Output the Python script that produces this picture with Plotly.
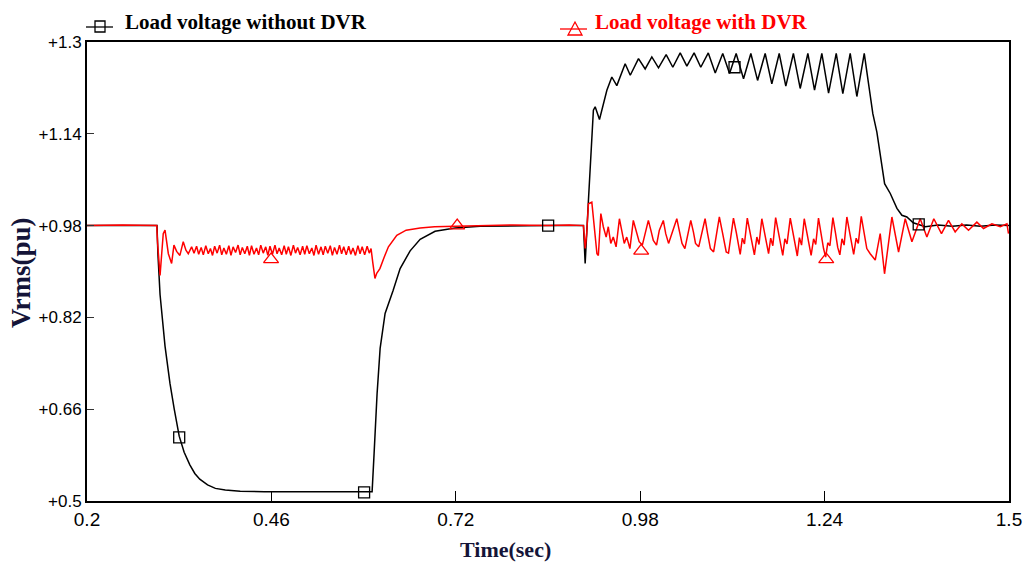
import plotly.graph_objects as go

# ---------------- data ----------------
# Load voltage without DVR (black trace)
t_without = [
    0.200, 0.2987, 0.300, 0.303, 0.310, 0.317, 0.323, 0.330, 0.337, 0.345,
    0.352, 0.359, 0.370, 0.381, 0.395, 0.416, 0.450, 0.500, 0.550, 0.602,
    0.6048, 0.609, 0.6133, 0.6203, 0.6316, 0.6415, 0.6556, 0.6697, 0.6908, 0.719,
    0.7543, 0.800, 0.850, 0.900, 0.9015, 0.9024, 0.907, 0.9095, 0.9118, 0.914,
    0.9165, 0.9226, 0.933, 0.940, 0.947, 0.9588, 0.966, 0.9776, 0.987, 0.9964,
    1.0058, 1.0166, 1.026, 1.0364, 1.0458, 1.056, 1.0654, 1.076, 1.0858, 1.0964,
    1.106, 1.1153, 1.1257, 1.136, 1.1455, 1.1562, 1.1656, 1.176, 1.1853, 1.196,
    1.2056, 1.2164, 1.2258, 1.2361, 1.2456, 1.2564, 1.2657, 1.2761, 1.2855, 1.2959,
    1.302, 1.308, 1.3137, 1.3246, 1.3326, 1.342, 1.349, 1.356, 1.365, 1.382,
    1.400, 1.420, 1.440, 1.460, 1.480, 1.500,
]
v_without = [
    0.980, 0.980, 0.930, 0.860, 0.770, 0.705, 0.660, 0.613, 0.585, 0.563,
    0.548, 0.538, 0.528, 0.522, 0.519, 0.517, 0.516, 0.516, 0.516, 0.516,
    0.583, 0.687, 0.766, 0.827, 0.867, 0.905, 0.936, 0.956, 0.970, 0.976,
    0.979, 0.980, 0.980, 0.980, 0.950, 0.914, 1.024, 1.083, 1.146, 1.181,
    1.187, 1.165, 1.216, 1.239, 1.224, 1.262, 1.242, 1.271, 1.253, 1.274,
    1.255, 1.278, 1.256, 1.281, 1.258, 1.281, 1.256, 1.281, 1.246, 1.280,
    1.245, 1.280, 1.236, 1.280, 1.233, 1.280, 1.227, 1.280, 1.223, 1.280,
    1.219, 1.280, 1.216, 1.280, 1.211, 1.280, 1.210, 1.280, 1.205, 1.280,
    1.227, 1.175, 1.143, 1.053, 1.036, 1.010, 0.998, 0.995, 0.985, 0.978,
    0.981, 0.979, 0.981, 0.979, 0.981, 0.980,
]

# Load voltage with DVR (red trace)
t_with = [
    0.200, 0.250, 0.2983, 0.2995, 0.303, 0.3055, 0.3075, 0.310, 0.312, 0.3147,
    0.3193, 0.3226, 0.3264, 0.331, 0.3357, 0.3395, 0.3428, 0.3475, 0.3509,
    0.3545, 0.3575, 0.361, 0.364, 0.3675, 0.371, 0.374, 0.377, 0.380, 0.3835,
    0.387, 0.390, 0.393, 0.3965, 0.400, 0.403, 0.406, 0.4095, 0.413, 0.416,
    0.419, 0.4225, 0.426, 0.429, 0.432, 0.4355, 0.439, 0.442, 0.445, 0.4485,
    0.452, 0.455, 0.458, 0.4615, 0.465, 0.468, 0.471, 0.4745, 0.478, 0.481,
    0.484, 0.4875, 0.491, 0.494, 0.497, 0.5005, 0.504, 0.507, 0.510, 0.5135,
    0.517, 0.520, 0.523, 0.5265, 0.530, 0.533, 0.536, 0.5395, 0.543, 0.546,
    0.549, 0.5525, 0.556, 0.559, 0.562, 0.5655, 0.569, 0.572, 0.575, 0.5785,
    0.582, 0.585, 0.588, 0.5915, 0.595, 0.598, 0.6005,
    0.603, 0.606, 0.6085, 0.613, 0.619, 0.625, 0.6368, 0.650, 0.6697, 0.690,
    0.720, 0.760, 0.800, 0.850, 0.880, 0.900,
    0.9025, 0.9045, 0.907, 0.9118, 0.914, 0.9165, 0.919, 0.921, 0.9245, 0.928,
    0.932, 0.935, 0.9385, 0.942, 0.946, 0.9507, 0.954, 0.9575, 0.961, 0.9655,
    0.9703, 0.974, 0.9785, 0.983, 0.986, 0.9915, 0.995, 0.9985, 1.003, 1.007,
    1.0126, 1.016, 1.020, 1.023, 1.0316, 1.0355, 1.039, 1.043, 1.0513, 1.055,
    1.058, 1.0625, 1.0715, 1.075, 1.079, 1.0835, 1.0916, 1.0963, 1.1013,
    1.1045, 1.1075, 1.1115, 1.1155, 1.1185, 1.121, 1.124, 1.127, 1.131, 1.135,
    1.138, 1.141, 1.1445, 1.1475, 1.1515, 1.1555, 1.1585, 1.161, 1.164, 1.167,
    1.171, 1.175, 1.178, 1.181, 1.184, 1.187, 1.1916, 1.1955, 1.1985, 1.2015,
    1.2045, 1.2075, 1.2113, 1.215, 1.218, 1.221, 1.2245, 1.2275, 1.2314, 1.2355,
    1.2385, 1.2415, 1.2445, 1.2475, 1.2517, 1.2555, 1.2585, 1.2615, 1.2645, 1.2675,
    1.2714, 1.2755, 1.2785, 1.281, 1.2845, 1.2875, 1.2917, 1.2955, 1.2995, 1.3043,
    1.3114, 1.3184, 1.3245, 1.3349, 1.3443, 1.3537, 1.3631, 1.3748, 1.3842, 1.394,
    1.4048, 1.4147, 1.4241, 1.4335, 1.4429, 1.4547, 1.4641, 1.4759, 1.4877, 1.4971,
    1.4993,
]
v_with = [
    0.980, 0.981, 0.980, 0.950, 0.893, 0.930, 0.966, 0.972, 0.955, 0.931,
    0.914, 0.946, 0.935, 0.928, 0.952, 0.937, 0.931, 0.943, 0.932,
    0.944, 0.930, 0.942, 0.929, 0.945, 0.931, 0.940, 0.928, 0.944, 0.932,
    0.946, 0.929, 0.941, 0.930, 0.945, 0.928, 0.943, 0.933, 0.946, 0.929,
    0.942, 0.931, 0.944, 0.928, 0.945, 0.930, 0.941, 0.929, 0.946, 0.932,
    0.943, 0.928, 0.944, 0.930, 0.946, 0.931, 0.941, 0.929, 0.945, 0.930,
    0.943, 0.928, 0.946, 0.932, 0.942, 0.929, 0.944, 0.930, 0.945, 0.931,
    0.941, 0.928, 0.946, 0.930, 0.943, 0.929, 0.944, 0.932, 0.945, 0.928,
    0.942, 0.930, 0.946, 0.931, 0.943, 0.929, 0.944, 0.930, 0.941, 0.928,
    0.945, 0.931, 0.943, 0.929, 0.944, 0.932, 0.940,
    0.915, 0.888, 0.897, 0.905, 0.925, 0.943, 0.963, 0.972, 0.976, 0.978,
    0.979, 0.980, 0.981, 0.980, 0.981, 0.980,
    0.940, 0.965, 1.018, 1.021, 0.992, 0.954, 0.931, 0.928, 1.001, 0.978,
    0.960, 0.978, 0.949, 0.960, 0.943, 0.992, 0.972, 0.949, 0.960, 0.940,
    0.989, 0.972, 0.952, 0.946, 0.963, 0.989, 0.972, 0.954, 0.946, 0.972,
    0.989, 0.966, 0.949, 0.960, 0.992, 0.969, 0.949, 0.940, 0.989, 0.969,
    0.949, 0.943, 0.992, 0.966, 0.940, 0.934, 0.995, 0.966, 0.934,
    0.932, 0.958, 0.993, 0.968, 0.945, 0.930, 0.958, 0.948, 0.993, 0.966,
    0.944, 0.929, 0.960, 0.947, 0.992, 0.967, 0.946, 0.931, 0.958, 0.945,
    0.994, 0.968, 0.942, 0.928, 0.957, 0.948, 0.993, 0.966, 0.944, 0.927,
    0.959, 0.946, 0.992, 0.965, 0.943, 0.928, 0.957, 0.947, 0.993, 0.962,
    0.940, 0.925, 0.950, 0.945, 0.994, 0.966, 0.942, 0.929, 0.957, 0.946,
    0.995, 0.967, 0.944, 0.930, 0.958, 0.949, 0.996, 0.965, 0.940, 0.931,
    0.920, 0.966, 0.896, 0.995, 0.934, 0.992, 0.952, 0.992, 0.960, 0.992,
    0.966, 0.989, 0.969, 0.983, 0.972, 0.986, 0.975, 0.983, 0.978, 0.983,
    0.966,
]

# Symbol markers placed along each trace
mk_t_without = [0.330, 0.5907, 0.8502, 1.113, 1.3727]
mk_v_without = [0.611, 0.515, 0.980, 1.256, 0.982]
mk_t_with = [0.4595, 0.722, 0.9814, 1.2423]
mk_v_with = [0.921, 0.980, 0.936, 0.921]

x_ticks = [0.2, 0.46, 0.72, 0.98, 1.24, 1.5]
x_tick_text = ["0.2", "0.46", "0.72", "0.98", "1.24", "1.5"]
y_ticks = [0.5, 0.66, 0.82, 0.98, 1.14, 1.3]
y_tick_text = ["+0.5", "+0.66", "+0.82", "+0.98", "+1.14", "+1.3"]

# ---------------- layout geometry ----------------
W, H = 1026, 566
ML, MR, MT, MB = 87, 17, 42, 65
PW, PH = W - ML - MR, H - MT - MB


def px(xp):
    return (xp - ML) / PW


def py(yp):
    return (H - MB - yp) / PH


NUM_FONT = "Liberation Sans Narrow, Arial Narrow, Liberation Sans, Arial"
SERIF = "Liberation Serif, Times New Roman, serif"

fig = go.Figure()

fig.add_trace(go.Scatter(x=t_without, y=v_without, mode="lines",
                         line=dict(color="black", width=1.5), showlegend=False))
fig.add_trace(go.Scatter(x=t_with, y=v_with, mode="lines",
                         line=dict(color="#ff0000", width=1.5), showlegend=False))
fig.add_trace(go.Scatter(x=mk_t_without, y=mk_v_without, mode="markers",
                         marker=dict(symbol="square-open", size=11, color="black",
                                     line=dict(width=1.3, color="black")),
                         showlegend=False))
fig.add_trace(go.Scatter(x=mk_t_with, y=mk_v_with, mode="markers",
                         marker=dict(symbol="triangle-up-open", size=13, color="#ff0000",
                                     line=dict(width=1.3, color="#ff0000")),
                         showlegend=False))

shapes = []
# legend key: black line with square
shapes.append(dict(type="line", xref="paper", yref="paper",
                   x0=px(86), x1=px(113), y0=py(27), y1=py(27),
                   line=dict(color="black", width=1.3)))
shapes.append(dict(type="rect", xref="paper", yref="paper",
                   x0=px(95), x1=px(105), y0=py(32), y1=py(21),
                   line=dict(color="black", width=1.3), fillcolor="rgba(0,0,0,0)"))
# legend key: red line with triangle
shapes.append(dict(type="line", xref="paper", yref="paper",
                   x0=px(560), x1=px(587), y0=py(29), y1=py(29),
                   line=dict(color="#ff0000", width=1.3)))
tri = "M {} {} L {} {} L {} {} Z".format(px(568), py(35), px(582), py(35), px(575), py(22))
shapes.append(dict(type="path", xref="paper", yref="paper", path=tri,
                   line=dict(color="#ff0000", width=1.3), fillcolor="rgba(0,0,0,0)"))

annotations = [
    dict(text="<b>Load voltage without DVR</b>", xref="paper", yref="paper",
         x=px(123), y=py(22), xanchor="left", yanchor="middle", showarrow=False,
         font=dict(family=SERIF, size=21, color="black")),
    dict(text="<b>Load voltage with DVR</b>", xref="paper", yref="paper",
         x=px(593), y=py(22), xanchor="left", yanchor="middle", showarrow=False,
         font=dict(family=SERIF, size=21, color="#ff0000")),
    dict(text="<b>Time(sec)</b>", xref="paper", yref="paper",
         x=px(505), y=py(549), xanchor="center", yanchor="middle", showarrow=False,
         font=dict(family=SERIF, size=22, color="#141438")),
    dict(text="<b>Vrms(pu)</b>", xref="paper", yref="paper",
         x=px(21), y=py(273), xanchor="center", yanchor="middle", showarrow=False,
         textangle=-90, font=dict(family=SERIF, size=27, color="#141438")),
]

fig.update_layout(
    width=W, height=H,
    margin=dict(l=ML, r=MR, t=MT, b=MB, autoexpand=False),
    paper_bgcolor="white", plot_bgcolor="white",
    shapes=shapes, annotations=annotations,
    showlegend=False,
)
fig.update_xaxes(range=[0.2, 1.5], tickvals=x_ticks, ticktext=x_tick_text,
                 automargin=False,
                 ticks="inside", ticklen=10, tickwidth=1.3, tickcolor="black",
                 showgrid=False, zeroline=False, showline=True, linecolor="black",
                 linewidth=2, mirror=True,
                 tickfont=dict(family=NUM_FONT, size=19, color="black"))
fig.update_yaxes(range=[0.5, 1.3], tickvals=y_ticks, ticktext=y_tick_text,
                 automargin=False,
                 ticks="inside", ticklen=7, tickwidth=1.3, tickcolor="#333333",
                 showgrid=False, zeroline=False, showline=True, linecolor="black",
                 linewidth=2, mirror=True,
                 tickfont=dict(family=NUM_FONT, size=17, color="black"))

fig.write_html("out.html")
